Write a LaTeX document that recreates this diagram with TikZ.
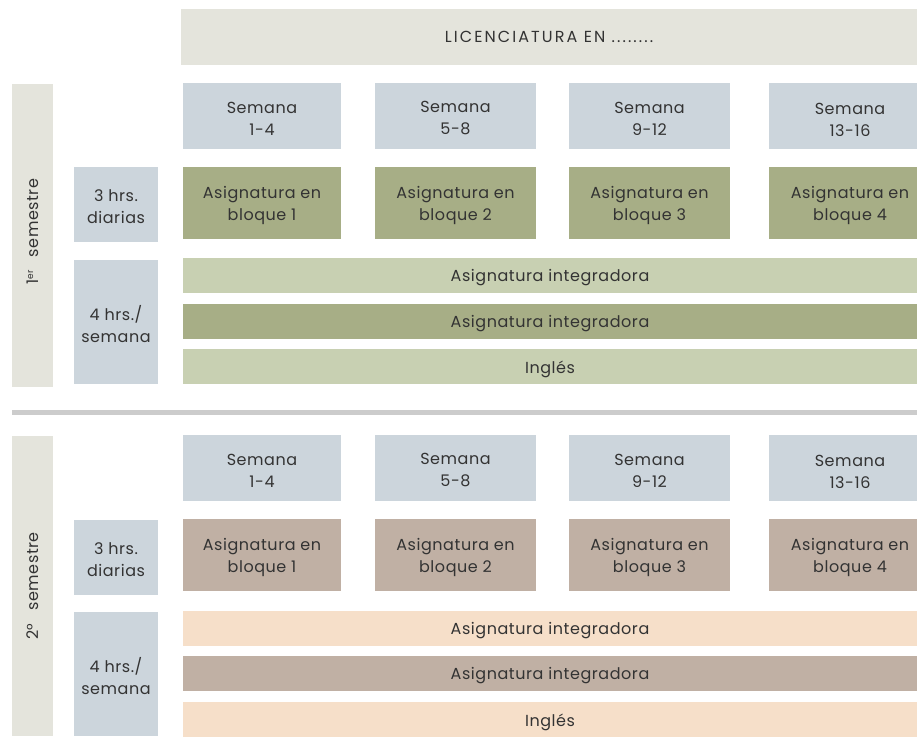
\documentclass[tikz,border=0pt]{standalone}
\usepackage{fontspec}
\setmainfont{Poppins}[LetterSpace=3.5]
\newfontfamily\hdrfont{Poppins}[LetterSpace=13]
\definecolor{txt}{HTML}{333333}
\definecolor{hdr}{HTML}{E4E4DC}
\definecolor{sem}{HTML}{CCD5DC}
\definecolor{dgreen}{HTML}{A7AE86}
\definecolor{lgreen}{HTML}{C8D0B2}
\definecolor{brown}{HTML}{C0B0A4}
\definecolor{peach}{HTML}{F6DFC9}
\definecolor{divc}{HTML}{CCCCCC}
% box node named #1, text node named #1t
\newcommand\cell[7]{%
  \node[#6, minimum width=#4pt, minimum height=#5pt] (#1) at (#2,#3) {};
  \node[celltext] (#1t) at (#1.center) {#7};}
\begin{document}
\begin{tikzpicture}[x=1pt,y=-1pt,
  every node/.style={inner sep=0pt, outer sep=0pt, anchor=north west, text=txt,
    font=\fontsize{16}{22}\selectfont, align=center},
  celltext/.style={anchor=center, yshift=-2.5pt},
  hdrbox/.style={fill=hdr},
  sembox/.style={fill=sem},
  dgbox/.style={fill=dgreen},
  lgbox/.style={fill=lgreen},
  brbox/.style={fill=brown},
  pcbox/.style={fill=peach},
  divbox/.style={fill=divc},
  vlabel/.style={anchor=center, rotate=90}]
\useasboundingbox (0,0) rectangle (917,736);
\clip (0,0) rectangle (917,736);
% header
\node[hdrbox, minimum width=736pt, minimum height=56pt] (hd) at (181,9) {};
\node[anchor=center] (hdt) at (hd.center) {\hdrfont LICENCIATURA EN ........};
% ---------- semester 1
\cell{bar1}{12}{84}{41}{303}{hdrbox}{}
\node[vlabel] (s1) at ([yshift=4pt]bar1.center) {1{\fontsize{9}{9}\selectfont\raisebox{5pt}{er}}\hspace{0.5em} semestre};
\cell{a1}{183}{83}{158}{66}{sembox}{Semana\\1-4}
\cell{a2}{375}{83}{161}{66}{sembox}{Semana\\5-8}
\cell{a3}{569}{83}{161}{66}{sembox}{Semana\\9-12}
\cell{a4}{769}{83}{162}{66}{sembox}{\rule{0pt}{15pt}Semana\\13-16}
\cell{h1}{74}{167}{84}{75}{sembox}{3 hrs.\\diarias}
\cell{b1}{183}{167}{158}{72}{dgbox}{Asignatura en\\bloque 1}
\cell{b2}{375}{167}{161}{72}{dgbox}{Asignatura en\\bloque 2}
\cell{b3}{569}{167}{161}{72}{dgbox}{Asignatura en\\bloque 3}
\cell{b4}{769}{167}{162}{72}{dgbox}{Asignatura en\\bloque 4}
\cell{w1}{74}{260}{84}{124}{sembox}{4 hrs./\\semana}
\cell{r1}{183}{258}{734}{35}{lgbox}{Asignatura integradora}
\cell{r2}{183}{304}{734}{35}{dgbox}{Asignatura integradora}
\cell{r3}{183}{349}{734}{35}{lgbox}{Inglés}
% divider
\cell{dv}{12}{410}{905}{5}{divbox}{}
% ---------- semester 2
\cell{bar2}{12}{436}{41}{300}{hdrbox}{}
\node[vlabel] (s2) at (bar2.center) {2°\hspace{0.5em} semestre};
\cell{c1}{183}{435}{158}{66}{sembox}{Semana\\1-4}
\cell{c2}{375}{435}{161}{66}{sembox}{Semana\\5-8}
\cell{c3}{569}{435}{161}{66}{sembox}{Semana\\9-12}
\cell{c4}{769}{435}{162}{66}{sembox}{\rule{0pt}{15pt}Semana\\13-16}
\cell{h2}{74}{520}{84}{75}{sembox}{3 hrs.\\diarias}
\cell{d1}{183}{519}{158}{72}{brbox}{Asignatura en\\bloque 1}
\cell{d2}{375}{519}{161}{72}{brbox}{Asignatura en\\bloque 2}
\cell{d3}{569}{519}{161}{72}{brbox}{Asignatura en\\bloque 3}
\cell{d4}{769}{519}{162}{72}{brbox}{Asignatura en\\bloque 4}
\cell{w2}{74}{612}{84}{124}{sembox}{4 hrs./\\semana}
\cell{q1}{183}{611}{734}{35}{pcbox}{Asignatura integradora}
\cell{q2}{183}{656}{734}{35}{brbox}{Asignatura integradora}
\cell{q3}{183}{702}{734}{35}{pcbox}{Inglés}
\end{tikzpicture}
\end{document}
